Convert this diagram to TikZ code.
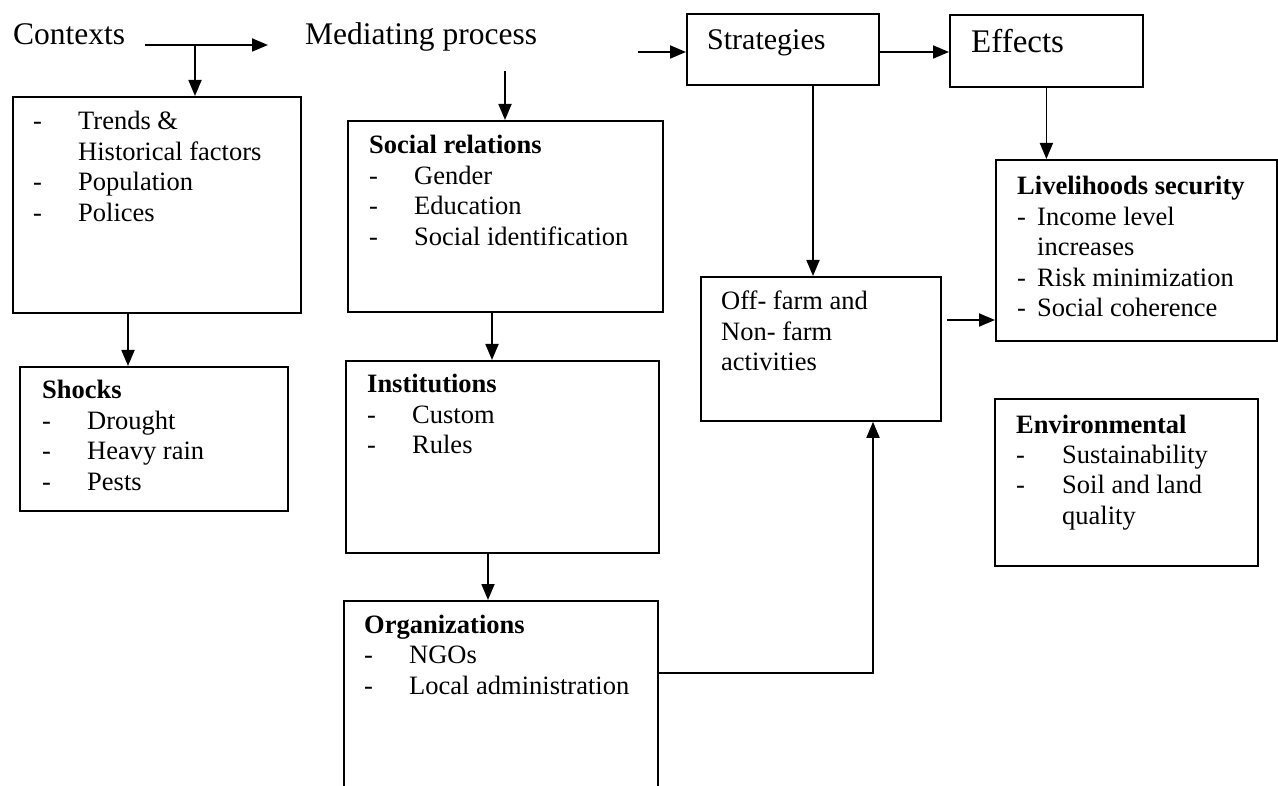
\documentclass[tikz,border=0pt]{standalone}
\usepackage{fontspec}
\setmainfont{Liberation Serif}
\usetikzlibrary{arrows.meta,calc}
\newcommand{\dashit}[1][45pt]{\makebox[#1][l]{-}}
\newcommand{\indit}[1][45pt]{\hspace*{#1}}
\begin{document}
\begin{tikzpicture}[x=1pt,y=-1pt,
  box/.style={draw, line width=1.8pt, inner sep=0pt, anchor=north west},
  head/.style={inner sep=0pt, anchor=base west, font=\fontsize{31.5}{36}\selectfont},
  txt/.style={inner sep=0pt, anchor=base west, font=\fontsize{26.5}{30.5}\selectfont},
  arr/.style={line width=1.8pt, -{Triangle[length=16pt,width=13pt]}}]
\useasboundingbox (0,0) rectangle (1278,786);
\clip (0,0) rectangle (1278,786);
\fill[white] (0,0) rectangle (1278,786);

% headers
\node[head] (ctx) at (13,45) {Contexts};
\node[head] (med) at (305,45) {Mediating process};

% boxes
\node[box, minimum width=192pt, minimum height=71pt] (strat) at (686,13) {};
\node[head, font=\fontsize{30}{36}\selectfont] (stratt) at ([shift={(21,37)}]strat.north west) {Strategies};
\node[box, minimum width=193pt, minimum height=72pt] (eff) at (949,14) {};
\node[head, font=\fontsize{33}{38}\selectfont] (efft) at ([shift={(22,39)}]eff.north west) {Effects};

\node[box, minimum width=288pt, minimum height=216pt] (lbox) at (12,96) {};
\node[txt] (lboxt) at ([shift={(21,34)}]lbox.north west) {\parbox[t]{270pt}{\dashit Trends \&\\\indit Historical factors\\\dashit Population\\\dashit Polices}};

\node[box, minimum width=268pt, minimum height=144pt] (shk) at (19,366) {};
\node[txt] (shkt) at ([shift={(23,33)}]shk.north west) {\parbox[t]{250pt}{\textbf{Shocks}\\\dashit Drought\\\dashit Heavy rain\\\dashit Pests}};

\node[box, minimum width=315pt, minimum height=191pt] (soc) at (347,120) {};
\node[txt] (soct) at ([shift={(22,34)}]soc.north west) {\parbox[t]{300pt}{\textbf{Social relations}\\\dashit Gender\\\dashit Education\\\dashit Social identification}};

\node[box, minimum width=313pt, minimum height=192pt] (inst) at (345,360) {};
\node[txt] (instt) at ([shift={(22,33)}]inst.north west) {\parbox[t]{300pt}{\textbf{Institutions}\\\dashit Custom\\\dashit Rules}};

\node[box, minimum width=314pt, minimum height=200pt] (org) at (343,600) {};
\node[txt] (orgt) at ([shift={(21,33)}]org.north west) {\parbox[t]{300pt}{\textbf{Organizations}\\\dashit NGOs\\\dashit Local administration}};

\node[box, minimum width=240pt, minimum height=144pt] (off) at (700,276) {};
\node[txt] (offt) at ([shift={(21,34)}]off.north west) {\parbox[t]{220pt}{Off- farm and\\Non- farm\\activities}};

\node[box, minimum width=281pt, minimum height=181pt] (liv) at (995,159) {};
\node[txt] (livt) at ([shift={(22,36)}]liv.north west) {\parbox[t]{260pt}{\textbf{Livelihoods security}\\\dashit[20pt]Income level\\\indit[20pt]increases\\\dashit[20pt]Risk minimization\\\dashit[20pt]Social coherence}};

\node[box, minimum width=263pt, minimum height=167pt] (env) at (994,398) {};
\node[txt] (envt) at ([shift={(22,35)}]env.north west) {\parbox[t]{250pt}{\textbf{Environmental}\\\dashit[46pt]Sustainability\\\dashit[46pt]Soil and land\\\indit[46pt]quality}};

% connectors
\draw[arr] ([xshift=20pt]ctx.base east) -- ([xshift=-37pt]med.base west);
\coordinate (j1) at (195,45);
\draw[arr] (j1) -- (j1 |- lbox.north);
\coordinate (m1) at (505,71);
\draw[arr] (m1) -- (m1 |- soc.north);
\coordinate (s0) at (638,52);
\draw[arr] (s0) -- (s0 -| strat.west);
\draw[arr] (strat.east |- s0) -- (eff.west |- s0);
\coordinate (s1) at (813,0);
\draw[arr] (s1 |- strat.south) -- (s1 |- off.north);
\draw[arr] (eff.south) -- (eff.south |- liv.north);
\coordinate (o1) at (947,320);
\draw[arr] (o1) -- (o1 -| liv.west);
\coordinate (l1) at (128,0);
\draw[arr] (l1 |- lbox.south) -- (l1 |- shk.north);
\coordinate (r1) at (492,0);
\draw[arr] (r1 |- soc.south) -- (r1 |- inst.north);
\coordinate (r2) at (488,0);
\draw[arr] (r2 |- inst.south) -- (r2 |- org.north);
\coordinate (c2) at (873,673);
\draw[arr] (c2 -| org.east) -- (c2) -- (c2 |- off.south);
\end{tikzpicture}
\end{document}
